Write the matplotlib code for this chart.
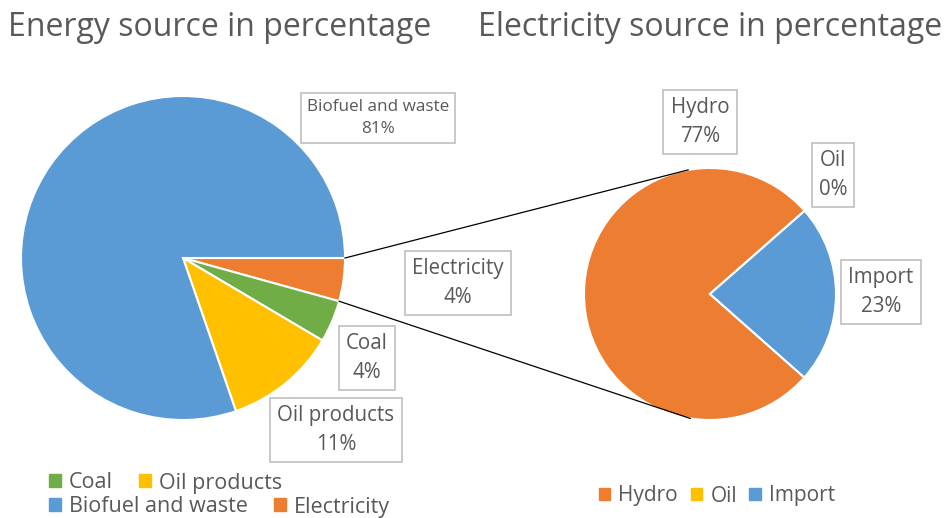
import numpy as np
import matplotlib.pyplot as plt
from matplotlib.patches import Patch

# data
energy_labels = ["Electricity", "Coal", "Oil products", "Biofuel and waste"]
energy_values = [4.3, 4.2, 11.2, 80.3]
energy_pct = ["4%", "4%", "11%", "81%"]
energy_colors = ["#ED7D31", "#70AD47", "#FFC000", "#5B9BD5"]
legend_left_rows = [["Coal", "Oil products"], ["Biofuel and waste", "Electricity"]]

elec_labels = ["Hydro", "Oil", "Import"]
elec_values = [77, 0, 23]
elec_pct = ["77%", "0%", "23%"]
elec_colors = ["#ED7D31", "#FFC000", "#5B9BD5"]

plt.rcParams['font.family'] = ['Open Sans', 'DejaVu Sans']
TXT = "#595959"
W, H = 948, 518

fig = plt.figure(figsize=(9.48, 5.18), dpi=100)
ax = fig.add_axes([0, 0, 1, 1])

left_c, left_r = (183, H - 258), 162
right_c, right_r = (710, H - 294), 126

wl, _ = ax.pie(energy_values, colors=energy_colors, startangle=0, counterclock=False,
               center=left_c, radius=left_r, frame=True,
               wedgeprops=dict(edgecolor="white", linewidth=1.5))
wr, _ = ax.pie(elec_values, colors=elec_colors, startangle=-41.5, counterclock=False,
               center=right_c, radius=right_r, frame=True,
               wedgeprops=dict(edgecolor="white", linewidth=1.5))
ax.set_xlim(0, W)
ax.set_ylim(0, H)
ax.set_aspect('equal')
ax.axis('off')

# connector lines from the electricity slice to the second pie
el = wl[0]
for ang_l, ang_r in [(el.theta2, 100), (el.theta1, -99)]:
    x0 = left_c[0] + left_r * np.cos(np.radians(ang_l))
    y0 = left_c[1] + left_r * np.sin(np.radians(ang_l))
    x1 = right_c[0] + right_r * np.cos(np.radians(ang_r))
    y1 = right_c[1] + right_r * np.sin(np.radians(ang_r))
    ax.plot([x0, x1], [y0, y1], color="black", lw=0.9, zorder=5)

box = dict(boxstyle="square,pad=0.35", fc="white", ec="#BFBFBF", lw=1.2)

# label positions (pixels)
left_pos = {"Electricity": (458, 283), "Coal": (367, 358),
            "Oil products": (336, 430), "Biofuel and waste": (378, 118)}
for lab, pct in zip(energy_labels, energy_pct):
    x, y = left_pos[lab]
    fs = 12.3 if lab == "Biofuel and waste" else 14.8
    ax.text(x, H - y, f"{lab}\n{pct}", ha="center", va="center", fontsize=fs,
            color=TXT, bbox=box, linespacing=1.45, zorder=6)

right_pos = {"Hydro": (700, 122), "Oil": (833, 175), "Import": (881, 292)}
for lab, pct in zip(elec_labels, elec_pct):
    x, y = right_pos[lab]
    ax.text(x, H - y, f"{lab}\n{pct}", ha="center", va="center", fontsize=14.8,
            color=TXT, bbox=box, linespacing=1.45, zorder=6)

# titles
ax.text(220, H - 27, "Energy source in percentage", ha="center", va="center",
        fontsize=23, color=TXT)
ax.text(710, H - 27, "Electricity source in percentage", ha="center", va="center",
        fontsize=23, color=TXT)

# legends
col = dict(zip(energy_labels, energy_colors))
leg_kw = dict(frameon=False, handlelength=0.55, handleheight=0.55, handletextpad=0.4,
              columnspacing=1.2, fontsize=15.5, labelcolor=TXT, borderpad=0,
              bbox_transform=ax.transData, loc="center left")
for row, ypix in zip(legend_left_rows, [483, 507]):
    hs = [Patch(color=col[n]) for n in row]
    lg = ax.legend(hs, row, ncol=len(row), bbox_to_anchor=(38, H - ypix), **leg_kw)
    ax.add_artist(lg)

hs = [Patch(color=c) for c in elec_colors]
leg_kw.update(loc="center", columnspacing=0.6, fontsize=15)
lg = ax.legend(hs, elec_labels, ncol=3, bbox_to_anchor=(717, H - 496), **leg_kw)

fig.savefig("out.png", dpi=100)
